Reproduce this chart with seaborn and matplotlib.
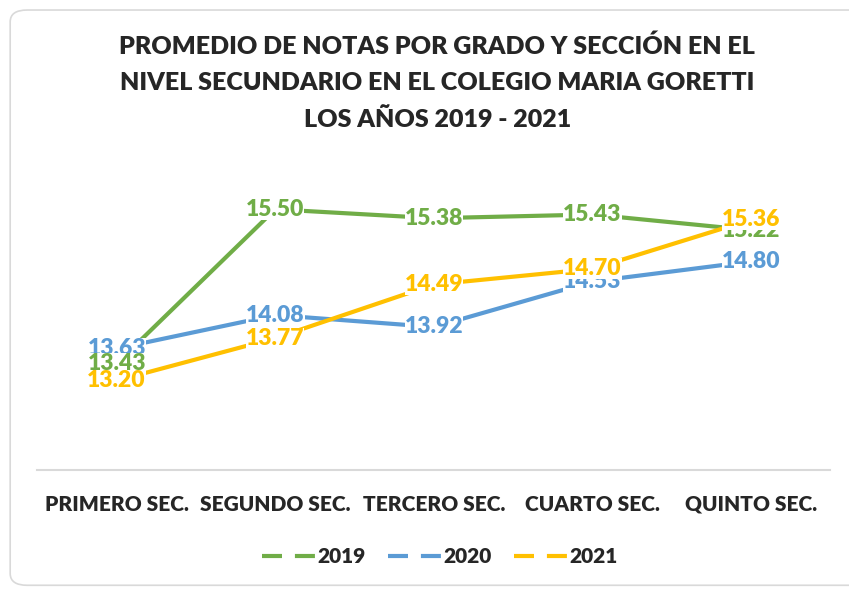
import pandas as pd
import numpy as np
import matplotlib.pyplot as plt
import seaborn as sns
from matplotlib.lines import Line2D
from matplotlib.patches import FancyBboxPatch

grados = ['PRIMERO SEC.', 'SEGUNDO SEC.', 'TERCERO SEC.', 'CUARTO SEC.', 'QUINTO SEC.']
notas_2019 = [13.43, 15.50, 15.38, 15.43, 15.22]
notas_2020 = [13.63, 14.08, 13.92, 14.53, 14.80]
notas_2021 = [13.20, 13.77, 14.49, 14.70, 15.36]
anios = ['2019', '2020', '2021']
colores = {'2019': '#70AD47', '2020': '#5B9BD5', '2021': '#FFC000'}

df = pd.DataFrame({
    'Grado': grados * 3,
    'Nota': notas_2019 + notas_2020 + notas_2021,
    'Anio': ['2019'] * 5 + ['2020'] * 5 + ['2021'] * 5,
})

sns.set_style('white')
plt.rcParams['font.family'] = ['Lato', 'DejaVu Sans']
peso = 'heavy'

fig = plt.figure(figsize=(8.49, 5.90), dpi=100)
ax = fig.add_axes([0.044, 0.2034, 0.934, 0.505])

# borde del area del grafico
fig.patches.append(FancyBboxPatch((0.012, 0.008), 1.2, 0.975, boxstyle='round,pad=0,rounding_size=0.02',
                                  transform=fig.transFigure, facecolor='none', edgecolor='#D9D9D9', lw=1.2))

sns.lineplot(data=df, x='Grado', y='Nota', hue='Anio', palette=colores, sort=False,
             linewidth=3, ax=ax, legend=False)

orden_z = {'2020': 5, '2019': 6, '2021': 7}
for anio in anios:
    sub = df[df['Anio'] == anio]
    for i, v in enumerate(sub['Nota']):
        ax.text(i, v, f'{v:.2f}', ha='center', va='center', color=colores[anio],
                fontsize=16.5, fontweight=peso, zorder=orden_z[anio],
                bbox=dict(boxstyle='square,pad=0.0', facecolor='white', edgecolor='none'))

ax.set_xlim(-0.5, 4.5)
ax.set_ylim(12, 16)
ax.set_yticks([])
ax.set_xlabel('')
ax.set_ylabel('')
for s in ['top', 'right', 'left']:
    ax.spines[s].set_visible(False)
ax.spines['bottom'].set_color('#D9D9D9')
ax.spines['bottom'].set_linewidth(1.5)
ax.tick_params(axis='x', length=0, pad=18, labelsize=15)
for t in ax.get_xticklabels():
    t.set_fontweight(peso)

fig.text(0.515, 0.942, 'PROMEDIO DE NOTAS POR GRADO Y SECCIÓN EN EL\nNIVEL SECUNDARIO EN EL COLEGIO MARIA GORETTI\nLOS AÑOS 2019 - 2021',
         ha='center', va='top', fontsize=18, fontweight=peso, linespacing=1.78)

handles = [Line2D([0], [0], color=colores[a], lw=3, dashes=(4.8, 3.1)) for a in anios]
leg = fig.legend(handles, anios, loc='center', bbox_to_anchor=(0.518, 0.056), ncol=3, frameon=False,
                 handlelength=2.6, handletextpad=0.05, columnspacing=1.1,
                 prop={'weight': peso, 'size': 15})

fig.savefig('out.png', dpi=100)
